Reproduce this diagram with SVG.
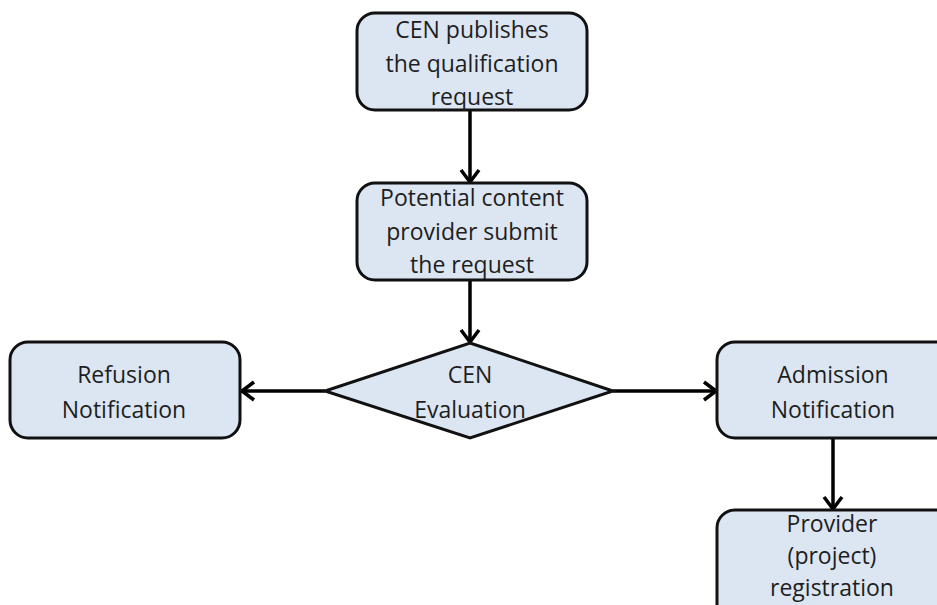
<svg xmlns="http://www.w3.org/2000/svg" width="937" height="605" viewBox="0 0 937 605">
<style>
.box{fill:#dce6f2;stroke:#111;stroke-width:3}
.t{font-family:"Open Sans","Liberation Sans",sans-serif;font-size:23px;fill:#1e1e1e;text-anchor:middle}
.c{stroke:#000;stroke-width:3.5;fill:none}
</style>
<defs>
<marker id="open" markerWidth="16" markerHeight="22" refX="14" refY="11" orient="auto" markerUnits="userSpaceOnUse" viewBox="0 0 16 22">
<path d="M2,2 L14,11 L2,20" fill="none" stroke="#000" stroke-width="3.5"/>
</marker>
</defs>
<g id="connectors">
<line class="c" x1="470" y1="110" x2="470" y2="182" marker-end="url(#open)"/>
<line class="c" x1="470" y1="280" x2="470" y2="342" marker-end="url(#open)"/>
<line class="c" x1="325" y1="391" x2="242" y2="391" marker-end="url(#open)"/>
<line class="c" x1="613" y1="391" x2="716" y2="391" marker-end="url(#open)"/>
<line class="c" x1="833" y1="438" x2="833" y2="509" marker-end="url(#open)"/>
</g>
<g id="n1">
<rect class="box" x="357" y="13" width="230" height="97" rx="18"/>
<text class="t" x="472" y="38">CEN publishes</text>
<text class="t" x="472" y="72">the qualification</text>
<text class="t" x="472" y="105">request</text>
</g>
<g id="n2">
<rect class="box" x="357" y="183" width="230" height="97" rx="18"/>
<text class="t" x="472" y="206">Potential content</text>
<text class="t" x="472" y="240">provider submit</text>
<text class="t" x="472" y="273">the request</text>
</g>
<g id="n3">
<path class="box" d="M470,343 L613,391 L470,438 L325,391 Z"/>
<text class="t" x="470" y="383">CEN</text>
<text class="t" x="470" y="418">Evaluation</text>
</g>
<g id="n4">
<rect class="box" x="10" y="342" width="230" height="96" rx="18"/>
<text class="t" x="124" y="383">Refusion</text>
<text class="t" x="124" y="418">Notification</text>
</g>
<g id="n5">
<rect class="box" x="717" y="342" width="236" height="96" rx="18"/>
<text class="t" x="833" y="383">Admission</text>
<text class="t" x="833" y="418">Notification</text>
</g>
<g id="n6">
<rect class="box" x="717" y="510" width="236" height="120" rx="18"/>
<text class="t" x="832" y="532">Provider</text>
<text class="t" x="832" y="564">(project)</text>
<text class="t" x="832" y="596">registration</text>
</g>
</svg>
